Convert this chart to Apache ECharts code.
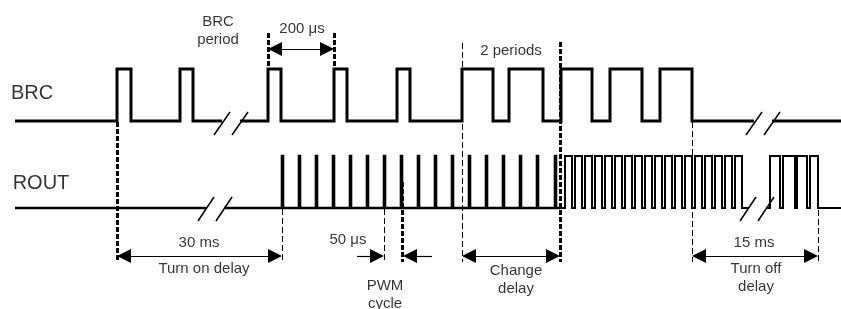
<!DOCTYPE html>
<html>
<head>
<meta charset="utf-8">
<script src="https://cdn.jsdelivr.net/npm/echarts@6/dist/echarts.min.js"></script>
<style>
  html, body { margin: 0; padding: 0; background: #fff; }
  #chart-container { width: 841px; height: 309px; }
</style>
</head>
<body>
<div id="chart-container"></div>
<script>
// edge times of the BRC pulses (diagram time units)
var brcRise = [117, 180, 268, 334, 397, 462, 509, 561, 610, 660];
var brcFall = [131, 193, 281, 347, 410, 493, 543, 592, 642, 692];
var brcBreaks = [231, 763];

// ROUT: narrow PWM spikes, then the fast burst, then the tail after the break
var routSpikes = [282, 299, 316, 333, 350, 367, 384, 401, 418, 435, 452, 469, 486, 503, 520, 537, 555];
var burstRise = [565, 575, 585, 595, 605, 615, 625, 635, 645, 655, 665, 675, 685, 695, 705, 715, 725, 735];
var burstFall = [572, 582, 592, 602, 612, 622, 632, 642, 652, 662, 672, 682, 692, 702, 712, 722, 732, 742];
var tailRise = [770, 783, 797, 810];
var tailFall = [780, 795, 807, 818];
var routBreaks = [215, 757];

// timing markers: [time, from, to]
var thickMarks = [[117, 122, 262], [268, 33, 69], [334, 33, 69], [402, 182, 262], [560, 42, 262]];
var thinMarks = [[282, 209, 262], [384, 209, 262], [462, 43, 262], [692, 122, 262], [818, 210, 262]];

// dimension arrows: [from, to, level]
var doubleArrows = [[117, 282, 256], [268, 334, 49], [462, 560, 256], [692, 818, 256]];
var pwmArrows = [[357, 384, 256], [432, 403, 256]];

// annotation texts
var notes = [
  ["BRC", 32, 93, 20],
  ["ROUT", 41, 183, 20],
  ["BRC\nperiod", 218, 31, 15],
  ["200 μs", 302, 29, 15],
  ["2 periods", 511, 51, 15],
  ["30 ms", 199, 243, 15],
  ["Turn on delay", 204, 269, 15],
  ["50 μs", 348, 240, 15],
  ["PWM\ncycle", 385, 295, 15],
  ["Change\ndelay", 516, 280, 15],
  ["15 ms", 754, 243, 15],
  ["Turn off\ndelay", 756, 278, 15]
];

var brcBase = 121, brcHigh = 69;
var routBase = 208, routHigh = 156;
var gap = 9;
var head = 14;

function trace(x0, x1, rises, falls, base, high) {
  var pts = [[x0, base]];
  for (var i = 0; i < rises.length; i++) {
    if (rises[i] >= x0 && falls[i] <= x1) {
      pts.push([rises[i], base], [rises[i], high], [falls[i], high], [falls[i], base]);
    }
  }
  pts.push([x1, base]);
  return { coords: pts };
}

var spikeFall = routSpikes.map(function (x) { return x + 1; });

var brcLines = [
  trace(15, brcBreaks[0] - gap, brcRise, brcFall, brcBase, brcHigh),
  trace(brcBreaks[0] + gap, brcBreaks[1] - gap, brcRise, brcFall, brcBase, brcHigh),
  trace(brcBreaks[1] + gap, 841, brcRise, brcFall, brcBase, brcHigh)
];
var routThick = [
  trace(15, routBreaks[0] - gap, [], [], routBase, routHigh),
  trace(routBreaks[0] + gap, 560, routSpikes, spikeFall, routBase, routHigh)
];
var routThin = [
  trace(560, routBreaks[1] - gap, burstRise, burstFall, routBase, routHigh),
  trace(routBreaks[1] + gap, 841, tailRise, tailFall, routBase, routHigh)
];

var slashes = [];
brcBreaks.forEach(function (b) {
  [-gap, gap].forEach(function (d) {
    slashes.push({ coords: [[b + d - 8, brcBase + 14], [b + d + 8, brcBase - 9]] });
  });
});
routBreaks.forEach(function (b) {
  [-gap, gap].forEach(function (d) {
    slashes.push({ coords: [[b + d - 8, routBase + 13], [b + d + 8, routBase - 11]] });
  });
});

function vlines(list) {
  return list.map(function (m) { return { coords: [[m[0], m[1]], [m[0], m[2]]] }; });
}

// the head symbols sit centred on the line ends, so pull the ends in by half a head
var doubleShafts = doubleArrows.map(function (a) {
  return { coords: [[a[0] + head / 2, a[2]], [a[1] - head / 2, a[2]]] };
});
var singleShafts = pwmArrows.map(function (a) {
  var dir = a[1] > a[0] ? 1 : -1;
  return { coords: [[a[0], a[2]], [a[1] - dir * head / 2, a[2]]] };
});

var dom = document.getElementById("chart-container");
var myChart = echarts.init(dom, null, { renderer: "canvas" });

var option = {
  animation: false,
  grid: { left: 0, right: 0, top: 0, bottom: 0 },
  xAxis: { type: "value", min: 0, max: 841, show: false },
  yAxis: { type: "value", min: 0, max: 309, inverse: true, show: false },
  series: [
    {
      type: "lines", coordinateSystem: "cartesian2d", polyline: true, silent: true,
      lineStyle: { color: "#000", width: 3, opacity: 1 },
      data: brcLines
    },
    {
      type: "lines", coordinateSystem: "cartesian2d", polyline: true, silent: true,
      lineStyle: { color: "#000", width: 2.6, opacity: 1 },
      data: routThick
    },
    {
      type: "lines", coordinateSystem: "cartesian2d", polyline: true, silent: true,
      lineStyle: { color: "#000", width: 2, opacity: 1 },
      data: routThin
    },
    {
      type: "lines", coordinateSystem: "cartesian2d", silent: true,
      lineStyle: { color: "#000", width: 1.5, opacity: 1 },
      data: slashes
    },
    {
      type: "lines", coordinateSystem: "cartesian2d", silent: true,
      lineStyle: { color: "#000", width: 3, type: [5, 2], opacity: 1 },
      data: vlines(thickMarks)
    },
    {
      type: "lines", coordinateSystem: "cartesian2d", silent: true,
      lineStyle: { color: "#000", width: 1, type: [6, 3], opacity: 1 },
      data: vlines(thinMarks)
    },
    {
      type: "lines", coordinateSystem: "cartesian2d", silent: true,
      symbol: ["triangle", "triangle"], symbolSize: head,
      lineStyle: { color: "#000", width: 1.2, opacity: 1 },
      data: doubleShafts
    },
    {
      type: "lines", coordinateSystem: "cartesian2d", silent: true,
      symbol: ["none", "triangle"], symbolSize: head,
      lineStyle: { color: "#000", width: 1.2, opacity: 1 },
      data: singleShafts
    },
    {
      type: "scatter", silent: true, symbolSize: 0,
      label: {
        show: true, position: "inside", color: "#000",
        fontFamily: "Liberation Sans, Arial, sans-serif"
      },
      data: notes.map(function (n) {
        return {
          value: [n[1], n[2]],
          label: { formatter: n[0], fontSize: n[3], lineHeight: n[3] === 15 ? 18 : 22 }
        };
      })
    }
  ]
};

myChart.setOption(option);
window.addEventListener("resize", myChart.resize);
</script>
</body>
</html>
